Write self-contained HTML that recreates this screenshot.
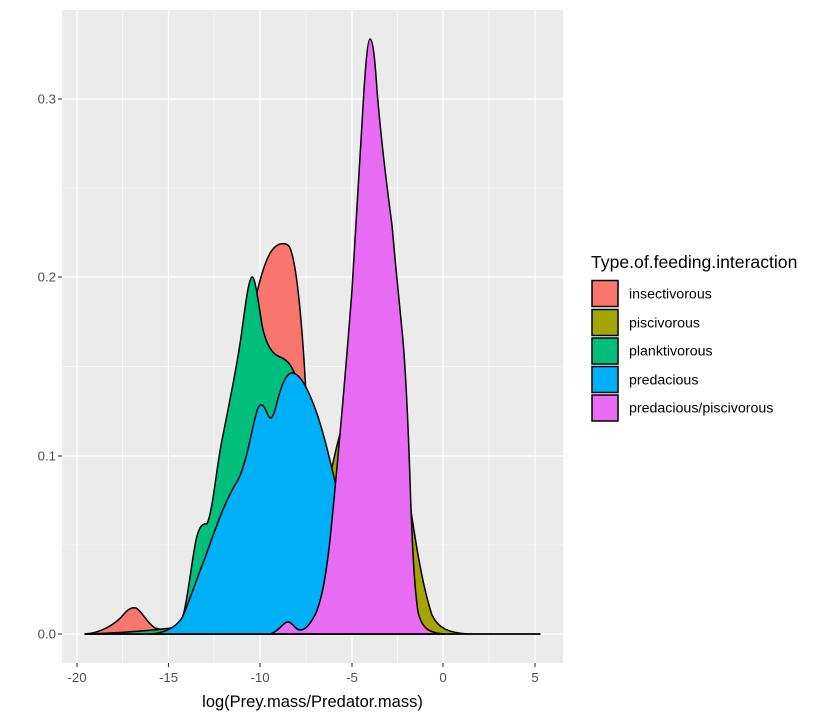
<!DOCTYPE html>
<html><head><meta charset="utf-8"><style>
body{margin:0;background:#fff;}
svg{display:block;font-family:"Liberation Sans",sans-serif;}
</style></head><body>
<svg width="840" height="720" viewBox="0 0 840 720">
<rect x="62" y="10" width="501" height="653" fill="#ebebeb"/>
<g stroke="#fff" stroke-width="0.6">
<line x1="122.5" x2="122.5" y1="10" y2="663"/><line x1="214" x2="214" y1="10" y2="663"/><line x1="306" x2="306" y1="10" y2="663"/><line x1="397.5" x2="397.5" y1="10" y2="663"/><line x1="489" x2="489" y1="10" y2="663"/>
<line x1="62" x2="563" y1="545" y2="545"/><line x1="62" x2="563" y1="366.5" y2="366.5"/><line x1="62" x2="563" y1="188" y2="188"/>
</g>
<g stroke="#fff" stroke-width="1.2">
<line x1="77" x2="77" y1="10" y2="663"/><line x1="168.5" x2="168.5" y1="10" y2="663"/><line x1="260" x2="260" y1="10" y2="663"/><line x1="352" x2="352" y1="10" y2="663"/><line x1="443" x2="443" y1="10" y2="663"/><line x1="535" x2="535" y1="10" y2="663"/>
<line x1="62" x2="563" y1="634" y2="634"/><line x1="62" x2="563" y1="456" y2="456"/><line x1="62" x2="563" y1="277" y2="277"/><line x1="62" x2="563" y1="99" y2="99"/>
</g>
<g stroke="#000" stroke-width="1.5" stroke-linejoin="round">
<path fill="#F8766D" d="M85,634 C100,633 115,625 124,614 C128,609 132,607 136,608 C142,611 146,622 155,628 C165,631 178,630 190,625 C210,600 232,480 250,330 C256,290 265,258 273,249 C278,243 285,242 289,246 C295,256 300,300 304,360 C308,420 312,520 318,600 C323,628 335,634 360,634 Z"/>
<path fill="#A3A500" d="M270,634 C295,620 315,540 333,463 C338,440 342,423 350,410 C370,395 390,420 405,470 C415,540 422,585 432,615 C438,628 448,633 470,634 L540,634 Z"/>
<path fill="#00BF7D" d="M85,634 C120,633 160,630 178,627 C186,620 190,570 196,540 C199,527 202,523 207,524 C213,510 216,470 222,440 C230,400 238,360 242,330 C246,300 249,278 252,277 C255,276 258,300 262,325 C266,345 272,354 280,357 C288,360 293,365 300,390 C310,430 325,520 335,590 C340,620 350,634 365,634 Z"/>
<path fill="#00B0F6" d="M150,634 C165,633 175,628 182,618 C190,600 198,575 205,558 C215,530 225,500 238,480 C248,460 253,420 258,408 C261,402 264,405 267,413 C270,420 272,420 275,410 C280,390 285,373 292,373 C300,373 308,390 313,403 C322,425 330,460 337,490 C345,540 350,600 360,628 C380,634 400,634 430,634 Z"/>
<path fill="#E76BF3" d="M270,634 C278,632 283,623 287,622 C292,621 295,630 300,630 C306,630 310,624 315,615 C322,600 326,575 330,540 C337,470 345,380 352,290 C356,230 360,150 364,90 C366,60 368,39 370,39 C373,39 375,60 377,90 C381,140 386,180 392,225 C395,260 398,290 402,330 C406,370 408,420 410,480 C412,540 414,585 418,612 C422,628 428,633 445,634 Z"/>
<line x1="85" y1="634" x2="540" y2="634"/>
</g>
<g fill="#4d4d4d" font-size="13.2" text-anchor="end">
<text x="56" y="638.5">0.0</text><text x="56" y="460.5">0.1</text><text x="56" y="281.5">0.2</text><text x="56" y="103.5">0.3</text>
</g>
<g stroke="#333" stroke-width="1.1">
<line x1="58" x2="62" y1="634" y2="634"/><line x1="58" x2="62" y1="456" y2="456"/><line x1="58" x2="62" y1="277" y2="277"/><line x1="58" x2="62" y1="99" y2="99"/>
<line x1="77" x2="77" y1="663" y2="667"/><line x1="168.5" x2="168.5" y1="663" y2="667"/><line x1="260" x2="260" y1="663" y2="667"/><line x1="352" x2="352" y1="663" y2="667"/><line x1="443" x2="443" y1="663" y2="667"/><line x1="535" x2="535" y1="663" y2="667"/>
</g>
<g fill="#4d4d4d" font-size="13.2" text-anchor="middle">
<text x="77" y="682">-20</text><text x="168.5" y="682">-15</text><text x="260" y="682">-10</text><text x="352" y="682">-5</text><text x="443" y="682">0</text><text x="535" y="682">5</text>
</g>
<text x="312.5" y="707" font-size="16.5" text-anchor="middle" fill="#000">log(Prey.mass/Predator.mass)</text>
<text x="591" y="268" font-size="17.6" fill="#000">Type.of.feeding.interaction</text>
<g stroke="#000" stroke-width="1.5">
<rect x="592" y="280.5" width="26" height="26" fill="#F8766D"/>
<rect x="592" y="309.5" width="26" height="26" fill="#A3A500"/>
<rect x="592" y="338" width="26" height="26" fill="#00BF7D"/>
<rect x="592" y="366.5" width="26" height="26" fill="#00B0F6"/>
<rect x="592" y="395" width="26" height="26" fill="#E76BF3"/>
</g>
<g font-size="14.2" fill="#000">
<text x="629" y="298.5">insectivorous</text><text x="629" y="327.5">piscivorous</text><text x="629" y="355.5">planktivorous</text><text x="629" y="384.5">predacious</text><text x="629" y="412.5">predacious/piscivorous</text>
</g>
</svg>
</body></html>
